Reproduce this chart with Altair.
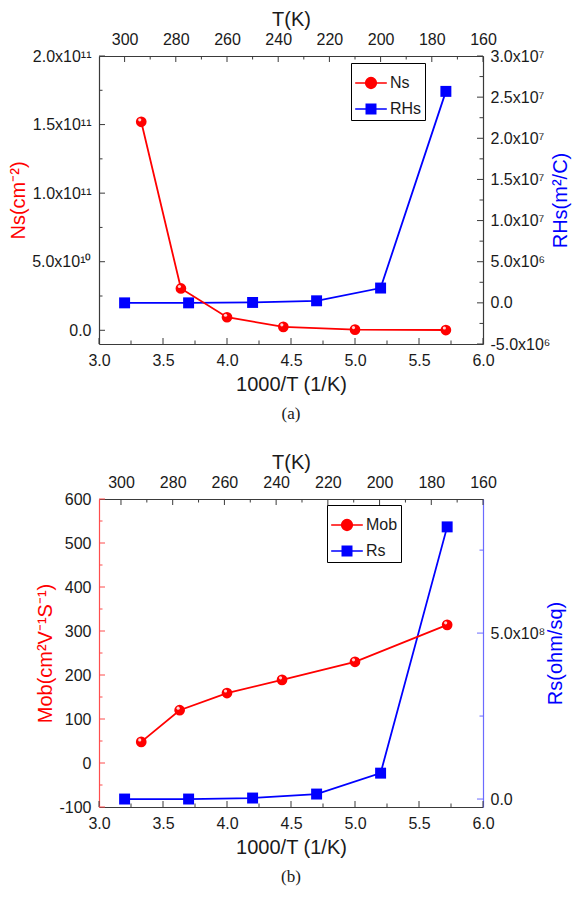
import json
import altair as alt
import pandas as pd

# ---------------- data : panel (a)
x_ns = [3.33, 3.64, 4.00, 4.44, 5.00, 5.71]
ns = [1.52e11, 3.05e10, 9.5e9, 2.5e9, 5.0e8, 2.0e8]
x_rhs = [3.20, 3.70, 4.20, 4.70, 5.20, 5.71]
rhs = [0.0, 0.0, 5.0e4, 2.5e5, 1.8e6, 2.57e7]

# ---------------- data : panel (b)
x_mob = [3.33, 3.63, 4.00, 4.43, 5.00, 5.72]
mob = [48, 120, 159, 189, 230, 314]
x_rs = [3.20, 3.70, 4.20, 4.70, 5.20, 5.72]
rs = [0.0, 0.0, 3.0e6, 1.5e7, 7.8e7, 8.2e8]

# ---------------- ticks / labels
x_ticks = [3.0, 3.5, 4.0, 4.5, 5.0, 5.5, 6.0]
x_minor = [3.25, 3.75, 4.25, 4.75, 5.25, 5.75]
t_ticks = [300, 280, 260, 240, 220, 200, 180, 160]
t_minor = [290, 270, 250, 230, 210, 190, 170]

ns_ticks = [0, 5e10, 1e11, 1.5e11, 2e11]
ns_labels = ["0.0", "5.0x10¹⁰", "1.0x10¹¹", "1.5x10¹¹", "2.0x10¹¹"]
ns_minor = [2.5e10, 7.5e10, 1.25e11, 1.75e11]
rhs_ticks = [-5e6, 0, 5e6, 1e7, 1.5e7, 2e7, 2.5e7, 3e7]
rhs_labels = ["-5.0x10⁶", "0.0", "5.0x10⁶", "1.0x10⁷", "1.5x10⁷", "2.0x10⁷", "2.5x10⁷", "3.0x10⁷"]
rhs_minor = [-2.5e6, 2.5e6, 7.5e6, 1.25e7, 1.75e7, 2.25e7, 2.75e7]

mob_ticks = [-100, 0, 100, 200, 300, 400, 500, 600]
mob_labels = ["-100", "0", "100", "200", "300", "400", "500", "600"]
mob_minor = [-50, 50, 150, 250, 350, 450, 550]
rs_ticks = [0, 5e8]
rs_labels = ["0.0", "5.0x10⁸"]
rs_minor = [2.5e8, 7.5e8]

RED = "#ff0000"
BLUE = "#0000ff"
TXT = "#1a1a1a"
FRAME = "#3a3a3a"
FONT = "Liberation Sans, Arial, sans-serif"

CIRC = ("M-1,0H-0.34M0.34,0H1M-0.34,0A0.34,0.34 0 1,0 0.34,0"
        "A0.34,0.34 0 1,0 -0.34,0Z")
SQR = "M-1,0H-0.3M0.3,0H1M-0.3,-0.3H0.3V0.3H-0.3Z"


def labexpr(vals, labs):
    expr = "''"
    for v, l in reversed(list(zip(vals, labs))):
        expr = f"(abs(datum.value - ({v!r})) < 1e-6 * {max(abs(x) for x in vals)} ? {json.dumps(l, ensure_ascii=False)} : {expr})"
    return expr


def rules(vals, orient, length, xenc, yenc, color, W, H):
    df = pd.DataFrame({"v": vals})
    base = alt.Chart(df).mark_rule(color=color, strokeWidth=1)
    if orient == "bottom":
        return base.encode(x=xenc("v"), y=alt.value(H), y2=alt.value(H - length))
    if orient == "top":
        return base.encode(x=xenc("v"), y=alt.value(0), y2=alt.value(length))
    if orient == "left":
        return base.encode(y=yenc("v"), x=alt.value(0), x2=alt.value(length))
    return base.encode(y=yenc("v"), x=alt.value(W), x2=alt.value(W - length))


def make_panel(xl, yl, xr, yr, names, ldom, lt, ll, lm, rdom, rt, rl, rm,
               ltitle, rtitle, T0, W, H, lcol, rcol, legx, legy, caption,
               ltpad, rtpad):
    xs = alt.Scale(domain=[3, 6], nice=False, zero=False)
    ysl = alt.Scale(domain=ldom, nice=False, zero=False)
    ysr = alt.Scale(domain=rdom, nice=False, zero=False)
    dl = pd.DataFrame({"x": xl, "y": yl})
    dr = pd.DataFrame({"x": xr, "y": yr})

    t_pos = [3 + (T0 - t) * 3 / (T0 - 160) for t in t_ticks]
    t_mpos = [3 + (T0 - t) * 3 / (T0 - 160) for t in t_minor]

    common = dict(ticks=False, grid=False, domainWidth=1.2, labelFont=FONT,
                  labelFontSize=16, labelColor=TXT, titleFont=FONT,
                  titleFontSize=20, titleFontWeight="normal",
                  labelOverlap=False, labelFlush=False)
    bottom_axis = alt.Axis(orient="bottom", values=x_ticks, format=".1f",
                           domainColor=FRAME, labelPadding=8,
                           title="1000/T (1/K)", titleColor=TXT,
                           titlePadding=6, **common)
    top_axis = alt.Axis(orient="top", values=t_pos,
                        labelExpr=f"format({T0} - (datum.value - 3) * {(T0 - 160) / 3}, '.0f')",
                        domainColor=FRAME, labelPadding=9, title="T(K)",
                        titleColor=TXT, titlePadding=2, **common)
    left_axis = alt.Axis(orient="left", values=lt, labelExpr=labexpr(lt, ll),
                         domainColor=lcol, labelPadding=8, title=ltitle,
                         titleColor=RED, titlePadding=ltpad, **common)
    right_axis = alt.Axis(orient="right", values=rt, labelExpr=labexpr(rt, rl),
                          domainColor=rcol, labelPadding=7, title=rtitle,
                          titleColor=BLUE, titlePadding=rtpad, titleAngle=270,
                          titleBaseline="top", **common)

    def xb(f):
        return alt.X(f"{f}:Q", scale=xs, axis=bottom_axis)

    def xt(f):
        return alt.X(f"{f}:Q", scale=xs, axis=top_axis)

    def yl_(f):
        return alt.Y(f"{f}:Q", scale=ysl, axis=left_axis)

    def yr_(f):
        return alt.Y(f"{f}:Q", scale=ysr, axis=right_axis)

    lline = alt.Chart(dl).mark_line(color=RED, strokeWidth=1.8).encode(
        x=xb("x"), y=yl_("y"))
    lpts = alt.Chart(dl).mark_point(filled=True, shape="circle", size=115,
                                    color=RED, opacity=1).encode(
        x=xb("x"), y=yl_("y"))
    lhi = alt.Chart(dl).mark_circle(size=10, color="#ffe0e0", opacity=0.95,
                                    xOffset=-1.5, yOffset=-2).encode(
        x=xb("x"), y=yl_("y"))

    leg = alt.Legend(orient="none", legendX=legx, legendY=legy, title=None,
                     direction="vertical", strokeColor="black",
                     fillColor="white", padding=3, symbolSize=1000,
                     symbolStrokeWidth=1.5, symbolOpacity=1, labelFont=FONT,
                     labelFontSize=16, labelColor=TXT, labelOffset=2,
                     rowPadding=0)
    legdf = pd.DataFrame({"s": names})
    leglayer = alt.Chart(legdf).mark_point(opacity=0, filled=True).encode(
        shape=alt.Shape("s:N", scale=alt.Scale(domain=names, range=[CIRC, SQR]), legend=leg),
        fill=alt.Fill("s:N", scale=alt.Scale(domain=names, range=[RED, BLUE]), legend=leg),
        stroke=alt.Stroke("s:N", scale=alt.Scale(domain=names, range=[RED, BLUE]), legend=leg))

    left = alt.layer(
        lline, lpts, lhi, leglayer,
        rules(x_ticks, "bottom", 6, xb, yl_, FRAME, W, H),
        rules(x_minor, "bottom", 3.5, xb, yl_, FRAME, W, H),
        rules(lt, "left", 6, xb, yl_, lcol, W, H),
        rules(lm, "left", 3.5, xb, yl_, lcol, W, H),
    )

    rline = alt.Chart(dr).mark_line(color=BLUE, strokeWidth=1.8).encode(
        x=xt("x"), y=yr_("y"))
    rpts = alt.Chart(dr).mark_point(filled=True, shape="square", size=120,
                                    color=BLUE, opacity=1).encode(
        x=xt("x"), y=yr_("y"))
    right = alt.layer(
        rline, rpts,
        rules(t_pos, "top", 6, xt, yr_, FRAME, W, H),
        rules(t_mpos, "top", 3.5, xt, yr_, FRAME, W, H),
        rules(rt, "right", 6, xt, yr_, rcol, W, H),
        rules(rm, "right", 3.5, xt, yr_, rcol, W, H),
    )

    return alt.layer(right, left).resolve_scale(y="independent").resolve_axis(
        x="independent", y="independent").properties(
        width=W, height=H,
        title=alt.TitleParams(caption, orient="bottom", anchor="middle",
                              frame="group", font="Liberation Serif",
                              fontSize=17, fontWeight="normal", color=TXT,
                              offset=12))


top = make_panel(x_ns, ns, x_rhs, rhs, ["Ns", "RHs"],
                 [-1e10, 2e11], ns_ticks, ns_labels, ns_minor,
                 [-5e6, 3e7], rhs_ticks, rhs_labels, rhs_minor,
                 "Ns(cm⁻²)", "RHs(m²/C)", 310, 384, 288,
                 FRAME, FRAME, 252, 7, "(a)", 3, 1)
bottom = make_panel(x_mob, mob, x_rs, rs, ["Mob", "Rs"],
                    [-100, 600], mob_ticks, mob_labels, mob_minor,
                    [-2.4e7, 9.04e8], rs_ticks, rs_labels, rs_minor,
                    "Mob(cm²V⁻¹S⁻¹)", "Rs(ohm/sq)", 308.5, 384, 308,
                    "#ff4d4d", "#6b6bff", 228, 6, "(b)", 3, 1)

chart = alt.vconcat(top, bottom, spacing=28, padding=0).resolve_scale(
    shape="independent", fill="independent", stroke="independent",
    x="independent", y="independent").configure_view(
    stroke=None).configure(background="white")

chart.save("out.html", embed_options={"renderer": "svg", "actions": False})
